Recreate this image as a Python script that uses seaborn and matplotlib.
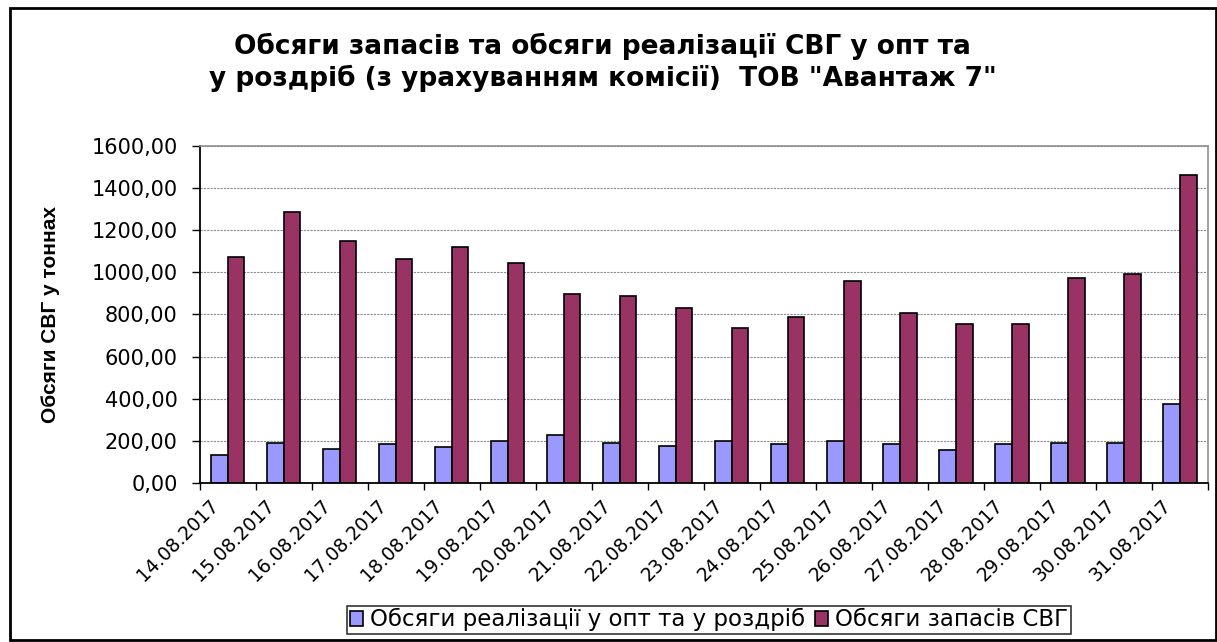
import matplotlib
matplotlib.use("Agg")
import matplotlib.pyplot as plt
import matplotlib.transforms as mtransforms
from matplotlib.patches import Rectangle
import seaborn as sns
import pandas as pd

# ──────────────────────────────────────────────
# DATA
# ──────────────────────────────────────────────

dates = ["14.08.2017", "15.08.2017", "16.08.2017", "17.08.2017", "18.08.2017",
         "19.08.2017", "20.08.2017", "21.08.2017", "22.08.2017", "23.08.2017",
         "24.08.2017", "25.08.2017", "26.08.2017", "27.08.2017", "28.08.2017",
         "29.08.2017", "30.08.2017", "31.08.2017"]

sales = [134, 191, 162, 185, 170, 197, 227, 191, 177,
         197, 185, 197, 185, 156, 185, 191, 191, 375]

stock = [1071, 1286, 1150, 1065, 1122, 1045, 895, 889, 830,
         737, 787, 958, 808, 753, 753, 974, 994, 1463]

series_names = ["Обсяги реалізації у опт та у роздріб", "Обсяги запасів СВГ"]
colors = {series_names[0]: "#9999FF", series_names[1]: "#993366"}

yticks = [0, 200, 400, 600, 800, 1000, 1200, 1400, 1600]

title = 'Обсяги запасів та обсяги реалізації СВГ у опт та\nу роздріб (з урахуванням комісії)  ТОВ "Авантаж 7"'
ylabel = "Обсяги СВГ у тоннах"

df = pd.DataFrame({
    "date": dates * 2,
    "series": [series_names[0]] * len(dates) + [series_names[1]] * len(dates),
    "value": sales + stock,
})

# ──────────────────────────────────────────────
# PLOT
# ──────────────────────────────────────────────

sns.set_style("white")
plt.rcParams["font.family"] = ["DejaVu Sans"]
for key in ["text.color", "axes.labelcolor", "xtick.color", "ytick.color"]:
    plt.rcParams[key] = "black"

fig = plt.figure(figsize=(12.17, 6.42), dpi=100)
ax = fig.add_axes([0.1643, 0.2477, 0.8283, 0.5249])

sns.barplot(data=df, x="date", y="value", hue="series", palette=colors,
            saturation=1, width=0.59, edgecolor="black", linewidth=1.2, ax=ax)

ax.set_xlim(-0.5, len(dates) - 0.5)
ax.set_ylim(0, 1600)
ax.set_yticks(yticks)
ax.set_yticklabels([f"{v:.2f}".replace(".", ",") for v in yticks], fontsize=15)
ax.yaxis.grid(True, color="#8c8c8c", linestyle=(0, (2, 1)), linewidth=0.8)
ax.set_axisbelow(True)
ax.tick_params(axis="y", direction="out", length=6, width=1, pad=10,
               color="black", left=True)

# category ticks between groups, labels at group centres
ax.set_xticks(range(len(dates)))
ax.set_xticklabels(dates, rotation=45, ha="right", va="center",
                   rotation_mode="anchor", fontsize=13.5)
ax.set_xticks([i - 0.5 for i in range(len(dates) + 1)], minor=True)
ax.tick_params(axis="x", which="major", length=0, pad=14)
ax.tick_params(axis="x", which="minor", direction="out", length=5, width=1,
               color="black", bottom=True)
shift = mtransforms.ScaledTranslation(-12 / 100, 0, fig.dpi_scale_trans)
for lab in ax.get_xticklabels():
    lab.set_transform(lab.get_transform() + shift)

for side in ["left", "bottom"]:
    ax.spines[side].set_color("black")
    ax.spines[side].set_linewidth(1.3)
for side in ["top", "right"]:
    ax.spines[side].set_visible(True)
    ax.spines[side].set_color("#909090")
    ax.spines[side].set_linewidth(1.2)

ax.set_xlabel("")
ax.set_ylabel(ylabel, fontsize=15, fontweight="bold", family=["Liberation Sans"])
ax.yaxis.set_label_coords(-0.139, 0.5)

fig.text(0.495, 0.903, title, ha="center", va="center", fontsize=19,
         fontweight="bold", linespacing=1.2)

leg = ax.legend(loc="center", bbox_to_anchor=(0.505, -0.406), ncol=2,
                frameon=True, fancybox=False, edgecolor="black", fontsize=16.5,
                handlelength=0.6, handleheight=0.6, handletextpad=0.3,
                columnspacing=0.4, borderpad=0.1, borderaxespad=0)
leg.get_frame().set_linewidth(1.2)

# outer chart frame
fig.patches.append(Rectangle((0.008, 0.003), 0.991, 0.985, transform=fig.transFigure,
                             fill=False, edgecolor="black", linewidth=2))

fig.savefig("out.png", dpi=100)
